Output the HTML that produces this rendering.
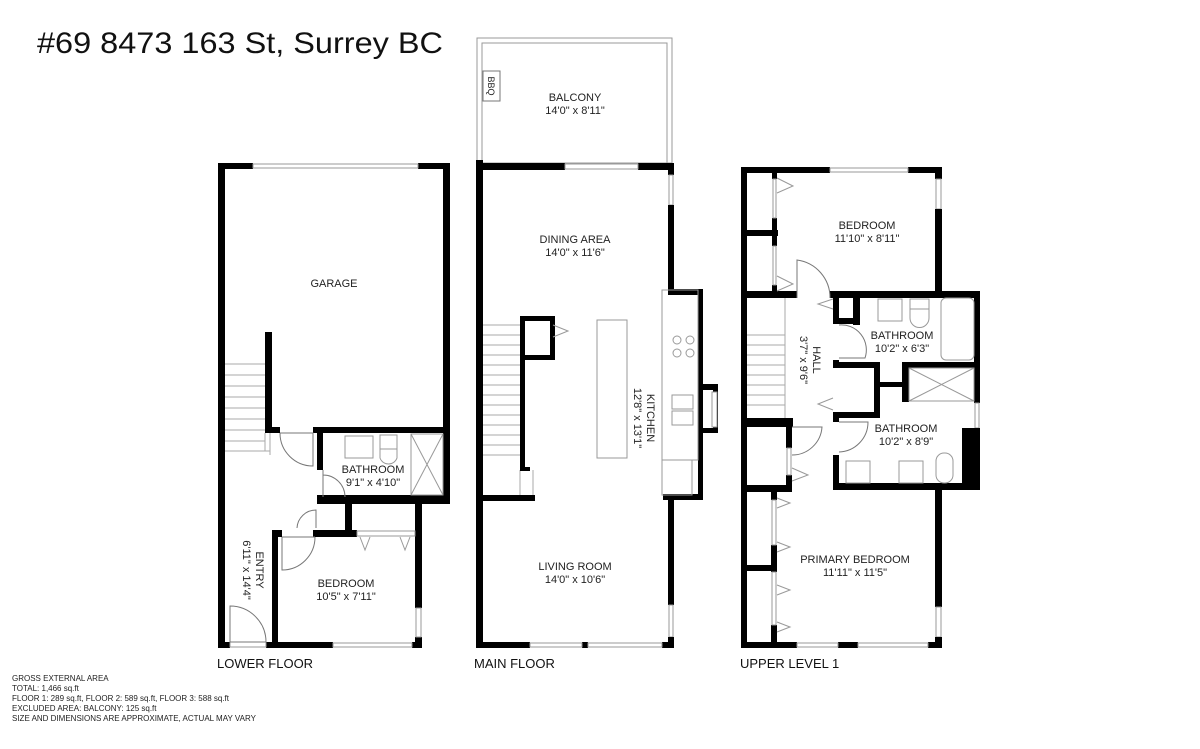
<!DOCTYPE html>
<html><head><meta charset="utf-8"><style>
html,body{margin:0;padding:0;background:#fff;}
svg{display:block;font-family:"Liberation Sans","DejaVu Sans",sans-serif;}
.l{font-size:11px;fill:#222;text-anchor:middle;}
.f{font-size:13px;fill:#111;}
.n{font-size:8px;fill:#222;}
.w{fill:#000;}
.t{fill:none;stroke:#999;stroke-width:1;}
.d{fill:none;stroke:#777;stroke-width:1;}
</style></head><body>
<svg width="1200" height="749" viewBox="0 0 1200 749" xmlns="http://www.w3.org/2000/svg">
<text x="37" y="53" font-size="30" fill="#111" textLength="406" lengthAdjust="spacingAndGlyphs">#69 8473 163 St, Surrey BC</text>

<!-- LOWER FLOOR -->
<g>
<rect class="w" x="218" y="163" width="7" height="485"/>
<rect class="w" x="218" y="163" width="35" height="6"/>
<rect class="w" x="418" y="163" width="32" height="6"/>
<rect x="253" y="164" width="165" height="4" fill="#fff" stroke="#999"/>
<rect class="w" x="443" y="163" width="7" height="341"/>
<rect class="w" x="265" y="332" width="7" height="101"/>
<rect class="w" x="265" y="427" width="15" height="6"/>
<rect class="w" x="313" y="427" width="137" height="6"/>
<rect class="w" x="317" y="427" width="6" height="43"/>
<rect class="w" x="317" y="495" width="133" height="9"/>
<rect class="w" x="415" y="495" width="7" height="113"/>
<rect class="w" x="415" y="637" width="7" height="11"/>
<rect x="416" y="608" width="5" height="29" fill="#fff" stroke="#999"/>
<rect class="w" x="345" y="503" width="7" height="32"/>
<rect class="w" x="272" y="530" width="10" height="7"/>
<rect class="w" x="313" y="530" width="44" height="7"/>
<rect class="t" x="357" y="531" width="58" height="5"/>
<rect class="w" x="272" y="530" width="6" height="118"/>
<rect class="w" x="218" y="642" width="12" height="6"/>
<rect class="w" x="266" y="642" width="67" height="6"/>
<rect class="w" x="412" y="642" width="10" height="6"/>
<rect x="333" y="643" width="79" height="4" fill="#fff" stroke="#999"/>
<rect class="t" x="230" y="642" width="36" height="5"/>
<!-- stairs -->
<g stroke="#aaa" stroke-width="1">
<line x1="225" y1="364" x2="265" y2="364"/><line x1="225" y1="375" x2="265" y2="375"/><line x1="225" y1="386" x2="265" y2="386"/><line x1="225" y1="397" x2="265" y2="397"/><line x1="225" y1="408" x2="265" y2="408"/><line x1="225" y1="419" x2="265" y2="419"/><line x1="225" y1="430" x2="265" y2="430"/><line x1="225" y1="441" x2="265" y2="441"/><line x1="225" y1="451" x2="270" y2="451"/>
<line x1="265" y1="433" x2="265" y2="451"/><line x1="270" y1="433" x2="270" y2="455"/>
</g>
<!-- doors -->
<path class="d" d="M280 433 L313 433 L313 466 A33 33 0 0 1 280 433"/>
<path class="d" d="M323 470 L323 497 M323 475 A22 22 0 0 1 345 497"/>
<path class="d" d="M297 528 A19 19 0 0 1 316 510 L316 528"/>
<path class="d" d="M282 537 L315 537 M282 537 L282 570 A33 33 0 0 0 315 537"/>
<path class="d" d="M230 606 A36 36 0 0 1 266 642 L230 642 Z"/>
<!-- fixtures -->
<rect class="t" x="345" y="436" width="28" height="22"/>
<rect class="t" x="380" y="435" width="17" height="14"/>
<path class="t" d="M380 449 L380 458 A9 9 0 0 0 397 458 L397 449"/>
<rect class="t" x="411" y="434" width="32" height="61"/>
<path class="t" d="M411 434 L443 495 M443 434 L411 495"/>
<path class="t" d="M360 537 L365 550 L370 537 M400 537 L405 550 L410 537"/>
<text class="l" x="334" y="287">GARAGE</text>
<text class="l" x="373" y="473">BATHROOM</text>
<text class="l" x="373" y="486">9'1" x 4'10"</text>
<text class="l" x="346" y="587">BEDROOM</text>
<text class="l" x="346" y="600">10'5" x 7'11"</text>
<text class="l" transform="translate(256,570) rotate(90)">ENTRY</text>
<text class="l" transform="translate(243,570) rotate(90)">6'11" x 14'4"</text>
<text class="f" x="217" y="668">LOWER FLOOR</text>
</g>

<!-- MAIN FLOOR -->
<g>
<rect class="t" x="477" y="38" width="195" height="125"/>
<rect class="t" x="482" y="43" width="185" height="120"/>
<rect x="483" y="71" width="17" height="30" fill="#fff" stroke="#777"/>
<text font-size="9" fill="#222" transform="translate(488,86) rotate(90)" text-anchor="middle">BBQ</text>
<rect class="w" x="476" y="160" width="7" height="488"/>
<rect class="w" x="476" y="163" width="89" height="7"/>
<rect class="w" x="638" y="163" width="36" height="7"/>
<rect x="565" y="164" width="73" height="5" fill="#fff" stroke="#999"/>
<rect class="w" x="668" y="163" width="6" height="12"/>
<rect x="669" y="175" width="4" height="30" fill="#fff" stroke="#999"/>
<rect class="w" x="668" y="205" width="6" height="90"/>
<rect class="w" x="668" y="289" width="35" height="6"/>
<rect class="w" x="698" y="289" width="5" height="211"/>
<rect class="w" x="698" y="384" width="20" height="6"/>
<rect class="w" x="713" y="384" width="5" height="49"/>
<rect class="w" x="698" y="428" width="20" height="5"/>
<rect x="712" y="392" width="5" height="35" fill="#fff" stroke="#999"/>
<rect class="w" x="663" y="494" width="40" height="6"/>
<rect class="w" x="668" y="494" width="6" height="111"/>
<rect x="669" y="605" width="4" height="32" fill="#fff" stroke="#999"/>
<rect class="w" x="668" y="637" width="6" height="11"/>
<rect class="w" x="476" y="642" width="54" height="6"/>
<rect class="w" x="582" y="642" width="6" height="6"/>
<rect class="w" x="662" y="642" width="12" height="6"/>
<rect x="530" y="643" width="52" height="4" fill="#fff" stroke="#999"/>
<rect x="588" y="643" width="74" height="4" fill="#fff" stroke="#999"/>
<!-- stairs -->
<g stroke="#aaa" stroke-width="1">
<line x1="483" y1="325" x2="520" y2="325"/><line x1="483" y1="335" x2="520" y2="335"/><line x1="483" y1="345" x2="520" y2="345"/><line x1="483" y1="355" x2="520" y2="355"/><line x1="483" y1="365" x2="520" y2="365"/><line x1="483" y1="375" x2="520" y2="375"/><line x1="483" y1="385" x2="520" y2="385"/><line x1="483" y1="395" x2="520" y2="395"/><line x1="483" y1="405" x2="520" y2="405"/><line x1="483" y1="415" x2="520" y2="415"/><line x1="483" y1="425" x2="520" y2="425"/><line x1="483" y1="435" x2="520" y2="435"/><line x1="483" y1="445" x2="520" y2="445"/><line x1="483" y1="455" x2="520" y2="455"/>
<line x1="520" y1="470" x2="520" y2="495"/><line x1="533" y1="470" x2="533" y2="495"/>
</g>
<rect class="w" x="520" y="316" width="5" height="155"/>
<rect class="w" x="520" y="316" width="35" height="5"/>
<rect class="w" x="550" y="316" width="5" height="43"/>
<rect class="w" x="520" y="355" width="35" height="5"/>
<rect class="w" x="520" y="467" width="10" height="4"/>
<rect class="w" x="476" y="495" width="59" height="6"/>
<path class="t" d="M553 325 L568 331 L553 337"/>
<rect class="t" x="597" y="320" width="30" height="138"/>
<rect class="t" x="662" y="290" width="36" height="170"/>
<rect class="t" x="662" y="460" width="30" height="35"/>
<circle class="t" cx="677" cy="340" r="4"/><circle class="t" cx="690" cy="340" r="4"/><circle class="t" cx="677" cy="353" r="4"/><circle class="t" cx="690" cy="353" r="4"/>
<rect class="t" x="672" y="395" width="21" height="14"/><rect class="t" x="672" y="411" width="21" height="14"/>
<text class="l" x="575" y="243">DINING AREA</text>
<text class="l" x="575" y="256">14'0" x 11'6"</text>
<text class="l" x="575" y="101">BALCONY</text>
<text class="l" x="575" y="114">14'0" x 8'11"</text>
<text class="l" x="575" y="570">LIVING ROOM</text>
<text class="l" x="575" y="583">14'0" x 10'6"</text>
<text class="l" transform="translate(647,418) rotate(90)">KITCHEN</text>
<text class="l" transform="translate(634,418) rotate(90)">12'8" x 13'1"</text>
<text class="f" x="474" y="668">MAIN FLOOR</text>
</g>

<!-- UPPER LEVEL -->
<g>
<rect class="w" x="741" y="167" width="6" height="481"/>
<rect class="w" x="741" y="167" width="89" height="6"/>
<rect class="w" x="908" y="167" width="34" height="6"/>
<rect x="830" y="168" width="78" height="4" fill="#fff" stroke="#999"/>
<rect class="w" x="935" y="167" width="7" height="12"/>
<rect x="936" y="179" width="5" height="30" fill="#fff" stroke="#999"/>
<rect class="w" x="935" y="209" width="7" height="83"/>
<rect class="w" x="741" y="291" width="56" height="7"/>
<rect class="w" x="830" y="291" width="150" height="7"/>
<rect class="w" x="974" y="291" width="6" height="112"/>
<rect x="975" y="403" width="4" height="25" fill="#fff" stroke="#999"/>
<rect class="w" x="962" y="428" width="18" height="62"/>
<rect class="w" x="833" y="483" width="147" height="7"/>
<rect class="w" x="833" y="293" width="6" height="30"/>
<rect class="w" x="833" y="360" width="6" height="8"/>
<rect class="w" x="833" y="412" width="6" height="10"/>
<rect class="w" x="833" y="455" width="6" height="35"/>
<rect class="w" x="853" y="293" width="7" height="32"/>
<rect class="w" x="833" y="318" width="27" height="6"/>
<rect class="w" x="833" y="362" width="47" height="6"/>
<rect class="w" x="874" y="362" width="6" height="56"/>
<rect class="w" x="833" y="412" width="47" height="6"/>
<rect class="w" x="880" y="382" width="25" height="5"/>
<rect class="w" x="902" y="362" width="7" height="40"/>
<rect class="w" x="902" y="362" width="78" height="6"/>
<rect class="w" x="935" y="490" width="7" height="117"/>
<rect x="936" y="607" width="5" height="30" fill="#fff" stroke="#999"/>
<rect class="w" x="935" y="637" width="7" height="11"/>
<rect class="w" x="741" y="642" width="56" height="6"/>
<rect class="w" x="838" y="642" width="20" height="6"/>
<rect class="w" x="928" y="642" width="14" height="6"/>
<rect x="797" y="643" width="41" height="4" fill="#fff" stroke="#999"/>
<rect x="858" y="643" width="70" height="4" fill="#fff" stroke="#999"/>
<!-- left closets -->
<rect class="w" x="741" y="230" width="37" height="6"/>
<rect class="w" x="772" y="167" width="5" height="12"/>
<rect class="w" x="772" y="218" width="5" height="28"/>
<rect class="w" x="772" y="285" width="5" height="13"/>
<rect class="t" x="773" y="179" width="3" height="39"/><rect class="t" x="773" y="246" width="3" height="39"/>
<path class="t" d="M777 178 L793 186 L777 193 M777 276 L793 284 L777 291"/>
<rect class="w" x="741" y="418" width="52" height="9"/>
<rect class="w" x="786" y="418" width="6" height="30"/>
<rect class="w" x="786" y="475" width="6" height="15"/>
<rect class="w" x="741" y="485" width="51" height="7"/>
<rect class="t" x="787" y="448" width="4" height="27"/>
<path class="t" d="M792 468 L808 475 L792 481"/>
<rect class="w" x="771" y="488" width="6" height="12"/>
<rect class="w" x="771" y="545" width="6" height="27"/>
<rect class="w" x="741" y="565" width="36" height="6"/>
<rect class="w" x="771" y="625" width="6" height="23"/>
<rect class="t" x="772" y="500" width="4" height="45"/><rect class="t" x="772" y="572" width="4" height="53"/>
<path class="t" d="M777 498 L790 503 L777 508 M777 542 L790 547 L777 552 M777 585 L790 590 L777 595 M777 622 L790 627 L777 632"/>
<!-- stairs -->
<g stroke="#aaa" stroke-width="1">
<line x1="747" y1="335" x2="785" y2="335"/><line x1="747" y1="345" x2="785" y2="345"/><line x1="747" y1="355" x2="785" y2="355"/><line x1="747" y1="365" x2="785" y2="365"/><line x1="747" y1="375" x2="785" y2="375"/><line x1="747" y1="385" x2="785" y2="385"/><line x1="747" y1="395" x2="785" y2="395"/><line x1="747" y1="405" x2="785" y2="405"/><line x1="785" y1="298" x2="785" y2="418"/>
</g>
<!-- doors -->
<path class="d" d="M797 298 L797 260 A38 38 0 0 1 830 298"/>
<path class="d" d="M839 325 A25 25 0 0 1 865 358 L839 358"/>
<path class="d" d="M792 427 L822 427 A30 30 0 0 1 792 455"/>
<path class="d" d="M839 422 L868 422 A30 30 0 0 1 839 452"/>
<path class="t" d="M833 299 L818 304 L833 309 M833 398 L818 404 L833 410"/>
<!-- fixtures -->
<rect class="t" x="878" y="299" width="24" height="22"/>
<rect class="t" x="910" y="299" width="19" height="10"/>
<path class="t" d="M910 309 L910 318 A9 9 0 0 0 929 318 L929 309"/>
<rect class="t" x="941" y="298" width="33" height="62" rx="5"/>
<rect class="t" x="909" y="368" width="65" height="33"/>
<path class="t" d="M909 368 L974 401 M974 368 L909 401"/>
<rect class="t" x="846" y="461" width="24" height="22"/>
<rect class="t" x="899" y="461" width="24" height="22"/>
<rect class="t" x="936" y="453" width="17" height="30" rx="8"/>
<text class="l" x="867" y="229">BEDROOM</text>
<text class="l" x="867" y="242">11'10" x 8'11"</text>
<text class="l" x="902" y="339">BATHROOM</text>
<text class="l" x="902" y="352">10'2" x 6'3"</text>
<text class="l" x="906" y="432">BATHROOM</text>
<text class="l" x="906" y="445">10'2" x 8'9"</text>
<text class="l" x="855" y="563">PRIMARY BEDROOM</text>
<text class="l" x="855" y="576">11'11" x 11'5"</text>
<text class="l" transform="translate(813,360) rotate(90)">HALL</text>
<text class="l" transform="translate(800,360) rotate(90)">3'7" x 9'6"</text>
<text class="f" x="740" y="668">UPPER LEVEL 1</text>
</g>

<text class="n" x="12" y="681">GROSS EXTERNAL AREA</text>
<text class="n" x="12" y="691">TOTAL: 1,466 sq.ft</text>
<text class="n" x="12" y="701">FLOOR 1: 289 sq.ft, FLOOR 2: 589 sq.ft, FLOOR 3: 588 sq.ft</text>
<text class="n" x="12" y="711">EXCLUDED AREA: BALCONY: 125 sq.ft</text>
<text class="n" x="12" y="721">SIZE AND DIMENSIONS ARE APPROXIMATE, ACTUAL MAY VARY</text>
</svg>
</body></html>
